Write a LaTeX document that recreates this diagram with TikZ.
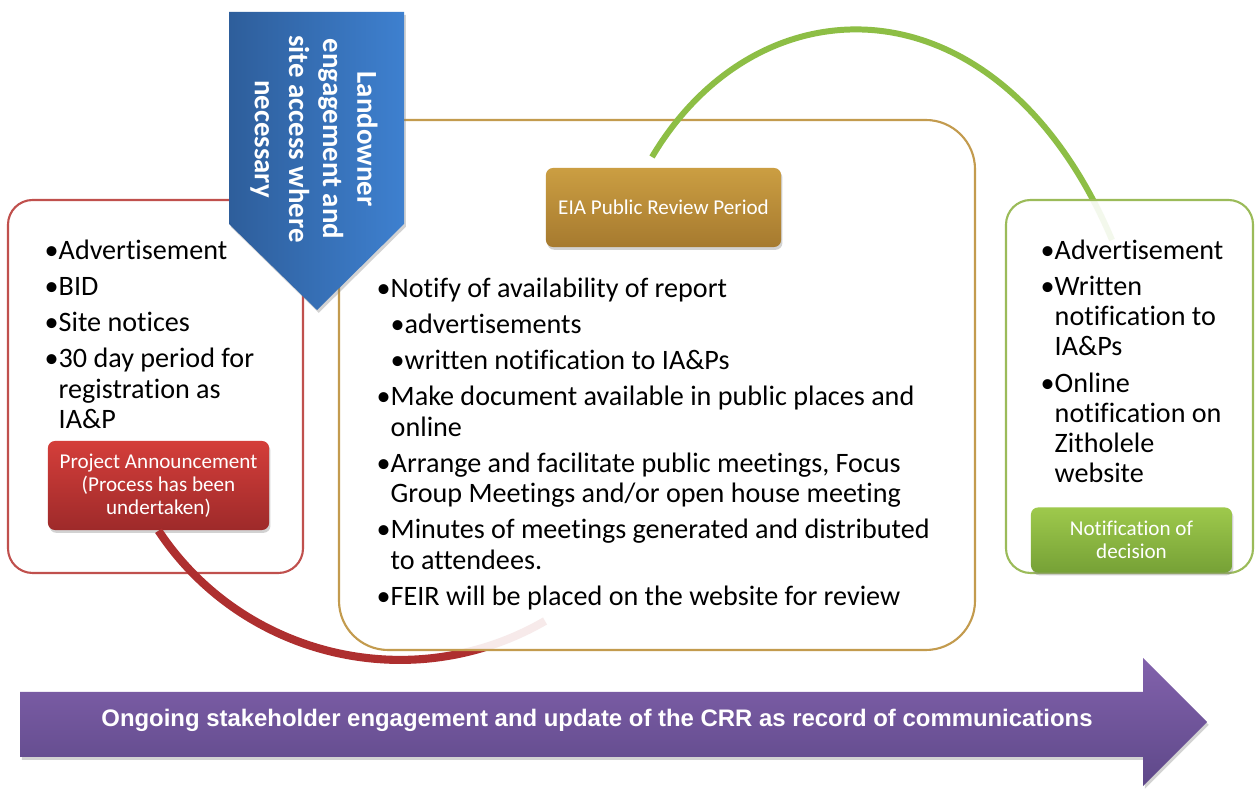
\documentclass[tikz,border=0pt]{standalone}
\usepackage{fontspec}
\setmainfont{Carlito}[Ligatures=NoCommon]
\newfontfamily\arialfont{Liberation Sans}
\usetikzlibrary{shadows}
\definecolor{redline}{HTML}{C0504D}
\definecolor{redtop}{HTML}{D43E3A}
\definecolor{redbot}{HTML}{9E2A2A}
\definecolor{redcurve}{HTML}{AE2F2F}
\definecolor{goldline}{HTML}{C39B4E}
\definecolor{goldtop}{HTML}{CB9E42}
\definecolor{goldbot}{HTML}{A67A2F}
\definecolor{grnline}{HTML}{9BBB59}
\definecolor{grncurve}{HTML}{8DBE45}
\definecolor{grntop}{HTML}{9EC94C}
\definecolor{grnbot}{HTML}{76A136}
\definecolor{blueleft}{HTML}{2E5E9B}
\definecolor{blueright}{HTML}{3E80CF}
\definecolor{purtop}{HTML}{8262AC}
\definecolor{purbot}{HTML}{5E4889}
\begin{document}
\begin{tikzpicture}[x=0.01cm, y=-0.01cm,
    box/.style={line width=0.6pt, fill=white, fill opacity=0.9, text opacity=1},
    tag/.style={rounded corners=2pt, text=white, align=center, inner sep=0pt,
        font=\fontsize{6}{6.6}\selectfont,
        drop shadow={opacity=0.35, shadow xshift=0.4pt, shadow yshift=-0.8pt}},
    pts/.style={anchor=north west, inner sep=0pt, align=left,
        font=\fontsize{8}{8.6}\selectfont}]
    \useasboundingbox[fill=white] (0,0) rectangle (1255,789);
    \draw[box, draw=redline, rounded corners=7pt] (8,200) rectangle (303,573);
    \node[tag, top color=redtop, bottom color=redbot, minimum width=2.21cm, minimum height=0.89cm]
        (announce) at (158.5,485.5) {Project Announcement\\(Process has been\\undertaken)};
    \coordinate (redend) at (545,621);
    \draw[redcurve, line width=2.3pt] (announce.south) .. controls (242,657) and (412,698) .. (redend);
    \draw[box, draw=goldline, rounded corners=14pt] (339,120) rectangle (975,650);
    \node[tag, top color=goldtop, bottom color=goldbot, minimum width=2.35cm, minimum height=0.79cm]
        (review) at (663.5,207.5) {EIA Public Review Period};
    \coordinate (grnstart) at (652,157);
    \coordinate (grnend) at (1112,240);
    \draw[grncurve, line width=1.7pt] (grnstart) .. controls (760,-25) and (1000,-25) .. (grnend);
    \draw[box, draw=grnline, rounded corners=7pt] (1006,200) rectangle (1253,573);
    \node[tag, top color=grntop, bottom color=grnbot, minimum width=2.01cm, minimum height=0.65cm]
        (decision) at (1131.5,540) {Notification of\\decision};
    \path[left color=blueleft, right color=blueright,
        drop shadow={opacity=0.35, shadow xshift=0.5pt, shadow yshift=-0.8pt}]
        (229,12) -- (404,12) -- (404,224) -- (317,310) -- (229,224) -- cycle;
    \node[rotate=-90, text=white, align=center, font=\bfseries\fontsize{8.2}{9.7}\selectfont]
        (land) at (314,139) {Landowner\\engagement and\\site access where\\necessary};
    \node[pts] (annpts) at (44,239) {\textbullet Advertisement\\[1.7pt]
        \textbullet BID\\[1.7pt]
        \textbullet Site notices\\[1.7pt]
        \textbullet 30 day period for\\
        \phantom{\textbullet}registration as\\
        \phantom{\textbullet}IA\&P};
    \node[pts] (revpts) at (376,277) {\textbullet Notify of availability of report\\[1.7pt]
        \phantom{\textbullet}\textbullet advertisements\\[1.7pt]
        \phantom{\textbullet}\textbullet written notification to IA\&Ps\\[1.7pt]
        \textbullet Make document available in public places and\\
        \phantom{\textbullet}online\\[1.7pt]
        \textbullet Arrange and facilitate public meetings, Focus\\
        \phantom{\textbullet}Group Meetings and/or open house meeting\\[1.7pt]
        \textbullet Minutes of meetings generated and distributed\\
        \phantom{\textbullet}to attendees.\\[1.7pt]
        \textbullet FEIR will be placed on the website for review};
    \node[pts] (decpts) at (1040,239) {\textbullet Advertisement\\[1.7pt]
        \textbullet Written\\
        \phantom{\textbullet}notification to\\
        \phantom{\textbullet}IA\&Ps\\[1.7pt]
        \textbullet Online\\
        \phantom{\textbullet}notification on\\
        \phantom{\textbullet}Zitholele\\
        \phantom{\textbullet}website};
    \path[top color=purtop, bottom color=purbot,
        drop shadow={opacity=0.35, shadow xshift=0.5pt, shadow yshift=-0.8pt}]
        (20,692) -- (1143,692) -- (1143,658) -- (1207,722) -- (1143,786) -- (1143,757) -- (20,757) -- cycle;
    \node[text=white, font=\arialfont\bfseries\fontsize{6.8}{8}\selectfont]
        (ongoing) at (597,720) {Ongoing stakeholder engagement and update of the CRR as record of communications};
\end{tikzpicture}
\end{document}
